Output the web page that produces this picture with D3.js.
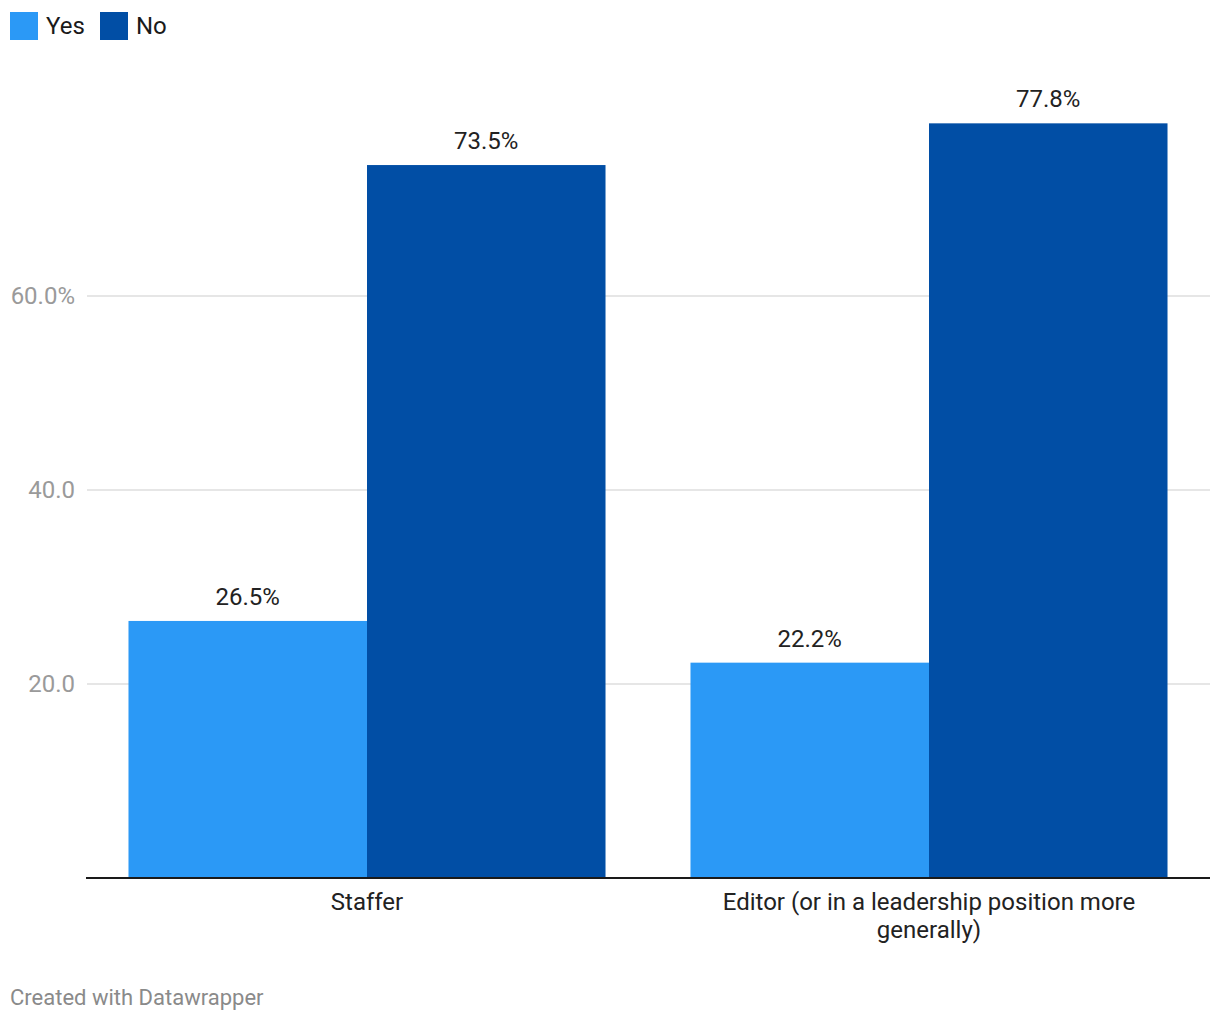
<!DOCTYPE html>
<html><head><meta charset="utf-8">
<script src="https://cdn.jsdelivr.net/npm/d3@7"></script>
<style>body{margin:0;background:#fff;font-family:Roboto,sans-serif;}</style>
</head><body>
<svg id="c" width="1220" height="1020"></svg>
<script>
const categories = ["Staffer", "Editor (or in a leadership position more generally)"];
const categoryLines = [["Staffer"], ["Editor (or in a leadership position more", "generally)"]];
const seriesNames = ["Yes", "No"];
const yesValues = [26.5, 22.2];
const noValues = [73.5, 77.8];
const tickValues = [20, 40, 60];
const tickLabels = ["20.0", "40.0", "60.0%"];
const colors = ["#2b99f6", "#014ea5"];

const svg = d3.select("#c");
const x0 = d3.scaleBand().domain(categories).range([86, 1210]).paddingInner(0.1512).paddingOuter(0.0756);
const x1 = d3.scaleBand().domain(seriesNames).range([0, x0.bandwidth()]);
const y = d3.scaleLinear().domain([0, 80]).range([878, 102]);
const color = d3.scaleOrdinal().domain(seriesNames).range(colors);

// gridlines
svg.append("g").selectAll("line").data(tickValues).join("line")
  .attr("x1", 87).attr("x2", 1210)
  .attr("y1", d => y(d)).attr("y2", d => y(d))
  .attr("stroke", "#e6e6e6").attr("stroke-width", 2);
svg.append("g").selectAll("text").data(tickValues).join("text")
  .attr("x", 75).attr("y", d => y(d)).attr("dy", "0.35em")
  .attr("text-anchor", "end").attr("fill", "#9a9a9a").attr("font-size", 24)
  .text((d, i) => tickLabels[i]);

const rows = categories.map((c, i) => ({cat: c, vals: [{s: "Yes", v: yesValues[i]}, {s: "No", v: noValues[i]}]}));
const g = svg.append("g").selectAll("g").data(rows).join("g")
  .attr("transform", d => `translate(${x0(d.cat)},0)`);
g.selectAll("rect").data(d => d.vals).join("rect")
  .attr("x", d => x1(d.s)).attr("width", x1.bandwidth())
  .attr("y", d => y(d.v)).attr("height", d => y(0) - y(d.v))
  .attr("fill", d => color(d.s));
g.selectAll("text").data(d => d.vals).join("text")
  .attr("x", d => x1(d.s) + x1.bandwidth() / 2).attr("y", d => y(d.v) - 16)
  .attr("text-anchor", "middle").attr("fill", "#222").attr("font-size", 24)
  .text(d => d.v.toFixed(1) + "%");

// baseline
svg.append("line").attr("x1", 86).attr("x2", 1210).attr("y1", y(0)).attr("y2", y(0))
  .attr("stroke", "#1a1a1a").attr("stroke-width", 2);

// x labels
categories.forEach((c, i) => {
  const t = svg.append("text").attr("text-anchor", "middle").attr("fill", "#222").attr("font-size", 24)
    .attr("x", x0(c) + x0.bandwidth() / 2).attr("y", 910);
  categoryLines[i].forEach((l, j) => t.append("tspan").attr("x", x0(c) + x0.bandwidth() / 2).attr("dy", j ? 28 : 0).text(l));
});

// legend
const leg = svg.append("g");
const legX = [10, 100];
seriesNames.forEach((s, i) => {
  leg.append("rect").attr("x", legX[i]).attr("y", 12).attr("width", 28).attr("height", 28).attr("fill", color(s));
  leg.append("text").attr("x", legX[i] + 36).attr("y", 26).attr("dy", "0.35em")
    .attr("font-size", 24).attr("fill", "#1a1a1a").text(s);
});

svg.append("text").attr("x", 10).attr("y", 997).attr("dy", "0.35em")
  .attr("font-size", 22).attr("fill", "#8a8a8a").text("Created with Datawrapper");
</script>
</body></html>
